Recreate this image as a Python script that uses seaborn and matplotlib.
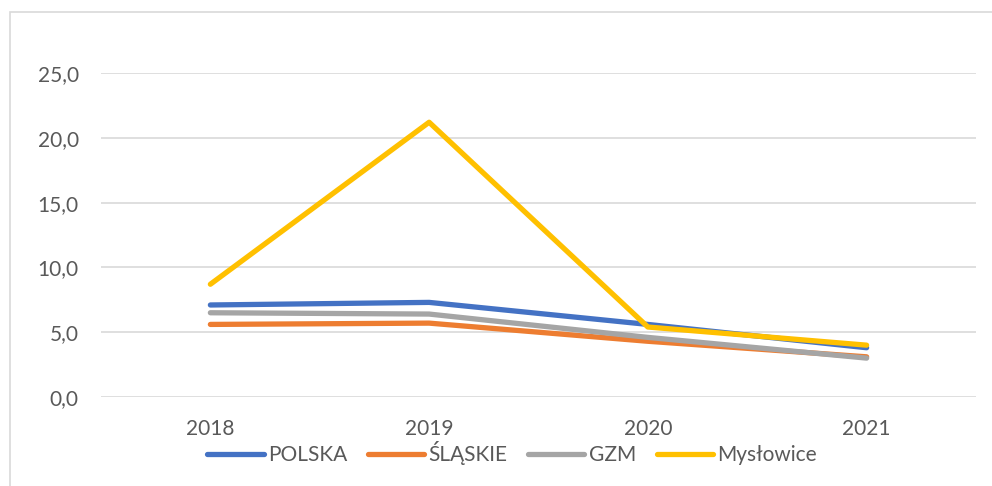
import matplotlib
matplotlib.use("Agg")
import matplotlib.pyplot as plt
import seaborn as sns
import pandas as pd
from matplotlib.patches import Rectangle
from matplotlib.ticker import FuncFormatter

# ------------------------------------------------------------------
# Data
# ------------------------------------------------------------------

years = [2018, 2019, 2020, 2021]
polska = [7.1, 7.3, 5.6, 3.8]
slaskie = [5.6, 5.7, 4.3, 3.1]
gzm = [6.5, 6.4, 4.6, 3.0]
myslowice = [8.7, 21.2, 5.4, 4.0]

series_names = ["POLSKA", "ŚLĄSKIE", "GZM", "Mysłowice"]
series_values = [polska, slaskie, gzm, myslowice]
colors = ["#4472C4", "#ED7D31", "#A5A5A5", "#FFC000"]

df = pd.DataFrame(
    [(name, y, v)
     for name, vals in zip(series_names, series_values)
     for y, v in zip(years, vals)],
    columns=["series", "year", "value"],
)

# ------------------------------------------------------------------
# Style
# ------------------------------------------------------------------

sns.set_theme(style="white")
plt.rcParams["font.family"] = ["Lato", "DejaVu Sans"]
text_color = "#595959"
grid_color = "#D9D9D9"

fig = plt.figure(figsize=(9.92, 4.86), dpi=100)
ax = fig.add_axes([101 / 992, 89 / 486, 875 / 992, 324 / 486])

# chart frame
fig.patches.append(Rectangle((10 / 992, -0.1), 1.2, (486 - 12) / 486 + 0.1,
                             transform=fig.transFigure, fill=False,
                             edgecolor=grid_color, linewidth=1.2))

sns.lineplot(
    data=df,
    x="year",
    y="value",
    hue="series",
    hue_order=series_names,
    palette=dict(zip(series_names, colors)),
    linewidth=3.8,
    solid_capstyle="round",
    solid_joinstyle="round",
    sort=False,
    ax=ax,
)

ax.set_xlim(2017.5, 2021.5)
ax.set_ylim(0, 25)
ax.set_xticks(years)
ax.set_xticklabels([str(y) for y in years])
ax.set_yticks([0, 5, 10, 15, 20, 25])
ax.yaxis.set_major_formatter(FuncFormatter(lambda v, p: f"{v:.1f}".replace(".", ",")))

ax.grid(axis="y", color=grid_color, linewidth=1.2)
ax.set_axisbelow(True)
for s in ax.spines.values():
    s.set_visible(False)

ax.tick_params(axis="both", length=0, labelsize=15, colors=text_color, pad=16)
ax.set_xlabel("")
ax.set_ylabel("")

handles, labels = ax.get_legend_handles_labels()
ax.legend_.remove()
leg = fig.legend(
    handles,
    labels,
    loc="center",
    bbox_to_anchor=(512 / 992, 33 / 486),
    ncol=4,
    frameon=False,
    fontsize=15,
    handlelength=2.7,
    handletextpad=0.2,
    columnspacing=1.0,
)
for t in leg.get_texts():
    t.set_color(text_color)

fig.savefig("out.png", dpi=100)
